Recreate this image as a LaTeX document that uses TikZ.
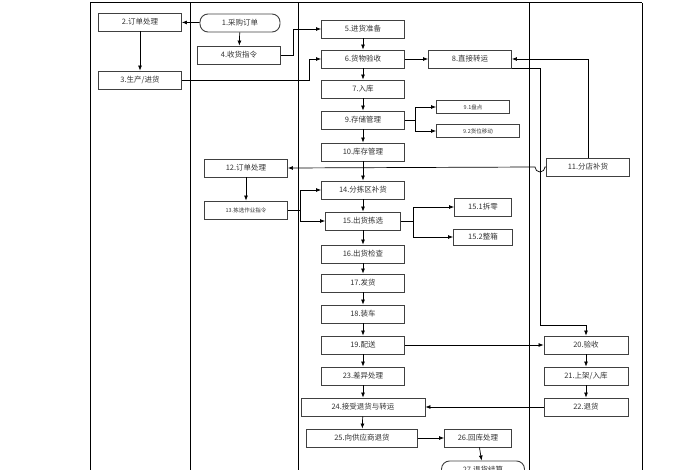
\documentclass[tikz,border=0pt]{standalone}
\usepackage{fontspec}
\newfontfamily\cjk{Noto Sans CJK SC}
\usetikzlibrary{arrows.meta}
\begin{document}
\begin{tikzpicture}[x=1pt,y=-1pt,
  bx/.style={draw=black!75,line width=0.9pt,minimum height=18pt,inner sep=1pt,font=\cjk\fontsize{7.5}{8}\selectfont,text=black!80},
  sm/.style={bx,minimum height=13pt,font=\cjk\fontsize{5.5}{6}\selectfont},
  ar/.style={-{Latex[length=5pt,width=4pt]},line width=0.7pt},
  ln/.style={line width=0.7pt},
  lane/.style={line width=1pt}]
\useasboundingbox (0,0) rectangle (700,470);
\begin{scope}
\clip (0,0) rectangle (700,470);
\draw[lane] (90,3) -- (642,3);
\foreach \x in {90,190,298,529,642} \draw[lane] (\x,3) -- (\x,475);
\node[bx,minimum width=83pt] (n2) at (140,22) {2.订单处理};
\node[bx,minimum width=80pt,rounded corners=8pt] (n1) at (240,23) {1.采购订单};
\node[bx,minimum width=83pt] (n4) at (239,55) {4.收货指令};
\node[bx,minimum width=83pt] (n3) at (140,80) {3.生产/进货};
\node[bx,minimum width=83pt] (n5) at (363,29) {5.进货准备};
\node[bx,minimum width=83pt] (n6) at (363,59) {6.货物验收};
\node[bx,minimum width=83pt] (n8) at (470,59) {8.直接转运};
\node[bx,minimum width=83pt] (n7) at (363,89) {7.入库};
\node[bx,minimum width=83pt] (n9) at (363,120) {9.存储管理};
\node[sm,minimum width=73pt] (n91) at (473,107) {9.1盘点};
\node[sm,minimum width=83pt] (n92) at (478,131) {9.2货位移动};
\node[bx,minimum width=83pt] (n10) at (363,152) {10.库存管理};
\node[bx,minimum width=83pt] (n12) at (246,168) {12.订单处理};
\node[bx,minimum width=83pt] (n11) at (588,167) {11.分店补货};
\node[bx,minimum width=83pt] (n14) at (363,190) {14.分拣区补货};
\node[sm,minimum width=83pt,minimum height=18pt] (n13) at (246,210) {13.拣选作业指令};
\node[bx,minimum width=75pt] (n15) at (363,221) {15.出货拣选};
\node[bx,minimum width=57pt] (n151) at (483,207) {15.1拆零};
\node[bx,minimum width=59pt,minimum height=16pt] (n152) at (483,237) {15.2整箱};
\node[bx,minimum width=83pt] (n16) at (363,254) {16.出货检查};
\node[bx,minimum width=83pt] (n17) at (363,283) {17.发货};
\node[bx,minimum width=83pt] (n18) at (363,314) {18.装车};
\node[bx,minimum width=83pt] (n19) at (363,345) {19.配送};
\node[bx,minimum width=84pt] (n20) at (586,345) {20.验收};
\node[bx,minimum width=83pt] (n23) at (363,376) {23.差异处理};
\node[bx,minimum width=84pt] (n21) at (586,376) {21.上架/入库};
\node[bx,minimum width=124pt] (n24) at (363,407) {24.接受退货与转运};
\node[bx,minimum width=84pt] (n22) at (586,407) {22.退货};
\node[bx,minimum width=111pt] (n25) at (362,438) {25.向供应商退货};
\node[bx,minimum width=67pt] (n26) at (478,438) {26.回库处理};
\node[bx,minimum width=83pt,rounded corners=8pt] (n27) at (483,470) {27.退货结算};
\draw[ar] (n1) -- (n2);
\draw[ar] (n1) -- (n4);
\draw[ar] (n2) -- (n3);
\draw[ar] (n4.east) -- (293,55) -- (293,29) -- (n5.west);
\draw[ar] (n3.east) -- (309,80) -- (309,59) -- (n6.west);
\foreach \a/\b in {n5/n6,n6/n7,n7/n9,n9/n10,n10/n14,n14/n15,n15/n16,n16/n17,n17/n18,n18/n19,n19/n23,n23/n24,n24/n25,n20/n21,n21/n22,n26/n27,n12/n13}
  \draw[ar] (\a) -- (\b);
\draw[ar] (n6) -- (n8);
\draw[ar] (n9.east) -- (415,120) |- (n91.west);
\draw[ar] (415,120) |- (n92.west);
\draw[ar] (n11.north) |- (n8.east);
\draw[ln] (n8.east |- 0,68) -- (540,68) -- (540,325) -- (586,325);
\draw[ar] (586,325) -- (n20.north);
\draw[ar] (n11.west) -- (545,167) arc (0:180:5) -- (n12.east);
\draw[ar] (n13.east) -- (300,210) |- (n14.west);
\draw[ar] (300,210) |- (n15.west);
\draw[ar] (n15.east) -- (413,221) |- (n151.west);
\draw[ar] (413,221) |- (n152.west);
\draw[ar] (n19) -- (n20);
\draw[ar] (n22) -- (n24);
\draw[ar] (n25) -- (n26);
\end{scope}
\end{tikzpicture}
\end{document}
